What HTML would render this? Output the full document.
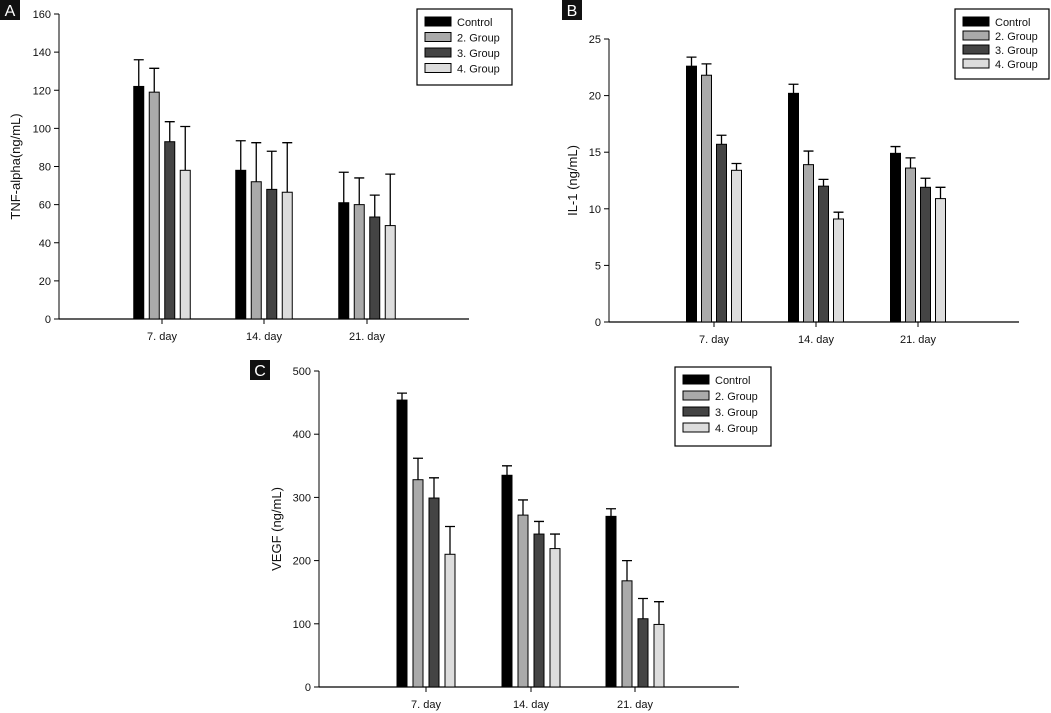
<!DOCTYPE html>
<html><head><meta charset="utf-8"><style>
body{margin:0;background:#fff;width:1051px;height:713px;overflow:hidden}
svg{display:block;font-family:"Liberation Sans",Arial,sans-serif}
</style></head><body>
<svg id="fig" width="1051" height="713" viewBox="0 0 1051 713"></svg>
<script>
const categories = ["7. day","14. day","21. day"];
const seriesNames = ["Control","2. Group","3. Group","4. Group"];
const tnfValues = [[122,119,93,78],[78,72,68,66.5],[61,60,53.5,49]];
const tnfErrTops = [[136,131.5,103.5,101],[93.5,92.5,88,92.5],[77,74,65,76]];
const tnfTicks = [0,20,40,60,80,100,120,140,160];
const il1Values = [[22.6,21.8,15.7,13.4],[20.2,13.9,12,9.1],[14.9,13.6,11.9,10.9]];
const il1ErrTops = [[23.4,22.8,16.5,14],[21,15.1,12.6,9.7],[15.5,14.5,12.7,11.9]];
const il1Ticks = [0,5,10,15,20,25];
const vegfValues = [[454,328,299,210],[335,272,242,219],[270,168,108,99]];
const vegfErrTops = [[465,362,331,254],[350,296,262,242],[282,200,140,135]];
const vegfTicks = [0,100,200,300,400,500];

const fills = ["#000","#aaa","#444","#ddd"];
const NS="http://www.w3.org/2000/svg";
const svg=document.getElementById('fig');
function mk(tag,attrs,parent,text){const e=document.createElementNS(NS,tag);for(const k in attrs)e.setAttribute(k,attrs[k]);if(text!=null)e.textContent=text;(parent||svg).appendChild(e);return e;}

function panel(cfg){
  const g=mk('g',{});
  
  
  const yMax=cfg.ticks[cfg.ticks.length-1];
  const y=v=>cfg.bottom-(v/yMax)*(cfg.bottom-cfg.top);
  const x=(ci,si)=>cfg.centers[ci]+(si-1.5)*cfg.step;
  // axes
  const ya=mk('line',{x1:cfg.ax,y1:cfg.top,x2:cfg.ax,y2:cfg.bottom,stroke:'#000','stroke-width':1},g);
  
  const xa=mk('line',{x1:cfg.ax,y1:cfg.bottom,x2:cfg.xend,y2:cfg.bottom,stroke:'#000','stroke-width':1.2},g);
  
  cfg.ticks.forEach(t=>{
    mk('line',{x1:cfg.ax-5,y1:y(t),x2:cfg.ax,y2:y(t),stroke:'#000'},g);
    const l=mk('text',{x:cfg.ax-8,y:y(t)+4,'text-anchor':'end','font-size':11,fill:'#111'},g,String(t));
    
  });
  categories.forEach((c,ci)=>{
    mk('line',{x1:cfg.centers[ci],y1:cfg.bottom,x2:cfg.centers[ci],y2:cfg.bottom+5,stroke:'#000'},g);
    const l=mk('text',{x:cfg.centers[ci],y:cfg.bottom+21,'text-anchor':'middle','font-size':11,fill:'#111'},g,c);
    
    cfg.values[ci].forEach((v,si)=>{
      const cx=x(ci,si), top=cfg.errs[ci][si];
      const eb=mk('path',{d:`M${cx} ${y(v)}V${y(top)}M${cx-5} ${y(top)}H${cx+5}`,stroke:'#000','stroke-width':1.3,fill:'none'},g);
      
      const b=mk('rect',{x:cx-5,y:y(v),width:10,height:cfg.bottom-y(v),fill:fills[si],stroke:'#000','stroke-width':1},g);
      
    });
  });
  const yt=mk('text',{transform:`translate(${cfg.titleX},${(cfg.top+cfg.bottom)/2}) rotate(-90)`,'text-anchor':'middle','font-size':13,fill:'#111'},g,cfg.title);
  
  // legend
  const L=cfg.legend;
  const lg=mk('g',{},g);
  
  mk('rect',{x:L.x,y:L.y,width:L.w,height:L.h,fill:'#fff',stroke:'#000','stroke-width':1.2},lg);
  seriesNames.forEach((s,si)=>{
    const ry=L.y+8+si*L.gap;
    const e=mk('g',{},lg);
    
    mk('rect',{x:L.x+8,y:ry,width:26,height:9,fill:fills[si],stroke:'#000','stroke-width':1},e);
    mk('text',{x:L.x+40,y:ry+9,'font-size':11,fill:'#111'},e,s);
  });
  // panel letter
  const pl=mk('g',{},g);
  
  mk('rect',{x:cfg.lx,y:cfg.ly,width:20,height:20,fill:'#111'},pl);
  mk('text',{x:cfg.lx+10,y:cfg.ly+16,'text-anchor':'middle','font-size':16,fill:'#fff'},pl,cfg.letter);
}

panel({name:'panel-a-tnf',letter:'A',lx:0,ly:0,values:tnfValues,errs:tnfErrTops,ticks:tnfTicks,
  ax:59,top:14,bottom:319,xend:469,centers:[162,264,367],step:15.5,title:'TNF-alpha(ng/mL)',titleX:20,
  legend:{x:417,y:9,w:95,h:76,gap:15.5}});
panel({name:'panel-b-il1',letter:'B',lx:562,ly:0,values:il1Values,errs:il1ErrTops,ticks:il1Ticks,
  ax:609,top:39,bottom:322,xend:1019,centers:[714,816,918],step:15,title:'IL-1 (ng/mL)',titleX:577,
  legend:{x:955,y:9,w:94,h:70,gap:14}});
panel({name:'panel-c-vegf',letter:'C',lx:250,ly:360,values:vegfValues,errs:vegfErrTops,ticks:vegfTicks,
  ax:319,top:371,bottom:687,xend:739,centers:[426,531,635],step:16,title:'VEGF (ng/mL)',titleX:281,
  legend:{x:675,y:367,w:96,h:79,gap:16}});
</script>
</body></html>
